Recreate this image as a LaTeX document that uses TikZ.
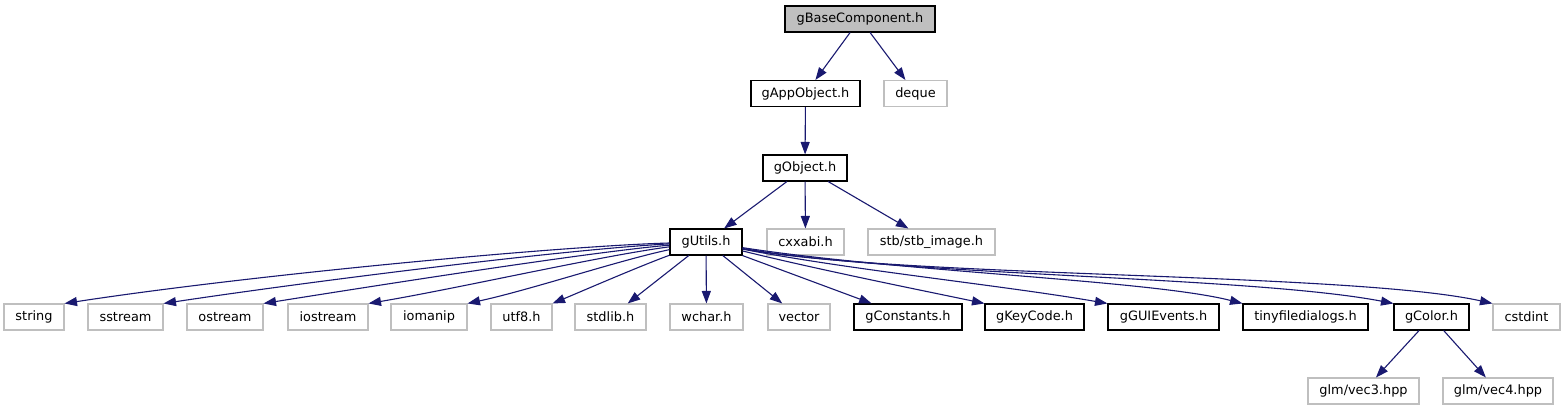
\documentclass[tikz,border=0pt]{standalone}
\usepackage{fontspec}
\setmainfont{DejaVu Sans}
\usetikzlibrary{arrows.meta}
\definecolor{edgecol}{HTML}{191970}
\definecolor{greyline}{HTML}{BFBFBF}
\definecolor{headfill}{HTML}{BFBFBF}
\tikzset{
  basebox/.style={rectangle, inner sep=0pt, minimum height=26pt, line width=1.05pt,
    font=\fontsize{12.9}{15}\selectfont, text=black},
  docbox/.style={basebox, draw=black},
  extbox/.style={basebox, draw=greyline},
  headbox/.style={basebox, draw=black, fill=headfill},
  dep/.style={draw=edgecol, line width=1.1pt, -{Triangle[length=12.5pt,width=9pt]}, edgecol}
}
\begin{document}
\begin{tikzpicture}[x=1pt, y=-1pt]
\fill[white] (0,0) rectangle (1565,411);
\useasboundingbox (0,0) rectangle (1565,411);

% row 0
\node[headbox, minimum width=150pt] (gbase) at (860,19) {gBaseComponent.h};
% row 1
\node[docbox, minimum width=109pt] (gapp) at (805.5,93.5) {gAppObject.h};
\node[extbox, minimum width=63pt] (deque) at (915.5,93.5) {deque};
% row 2
\node[docbox, minimum width=84pt] (gobject) at (805,168) {gObject.h};
% row 3
\node[docbox, minimum width=72pt] (gutils) at (706,242) {gUtils.h};
\node[extbox, minimum width=77pt] (cxxabi) at (805.5,242) {cxxabi.h};
\node[extbox, minimum width=127pt] (stb) at (931.5,242) {stb/stb\_image.h};
% row 4
\node[extbox, minimum width=60pt] (string) at (34,317) {string};
\node[extbox, minimum width=75pt] (sstream) at (125.5,317) {sstream};
\node[extbox, minimum width=76pt] (ostream) at (225,317) {ostream};
\node[extbox, minimum width=80pt] (iostream) at (328,317) {iostream};
\node[extbox, minimum width=76pt] (iomanip) at (429,317) {iomanip};
\node[extbox, minimum width=61pt] (utf8) at (521.5,317) {utf8.h};
\node[extbox, minimum width=71pt] (stdlib) at (610.5,317) {stdlib.h};
\node[extbox, minimum width=73pt] (wchar) at (706.5,317) {wchar.h};
\node[extbox, minimum width=62pt] (vector) at (799,317) {vector};
\node[docbox, minimum width=108pt] (gconst) at (908,317) {gConstants.h};
\node[docbox, minimum width=99pt] (gkey) at (1034.5,317) {gKeyCode.h};
\node[docbox, minimum width=111pt] (ggui) at (1163.5,317) {gGUIEvents.h};
\node[docbox, minimum width=125pt] (tiny) at (1305.5,317) {tinyfiledialogs.h};
\node[docbox, minimum width=75pt] (gcolor) at (1431.5,317) {gColor.h};
\node[extbox, minimum width=67pt] (cstdint) at (1526.5,317) {cstdint};
% row 5
\node[extbox, minimum width=111pt] (vec3) at (1363.5,391) {glm/vec3.hpp};
\node[extbox, minimum width=110pt] (vec4) at (1498,391) {glm/vec4.hpp};

% edges
\draw[dep] (gbase) -- (gapp);
\draw[dep] (gbase) -- (deque);
\draw[dep] (gapp) -- (gobject);
\draw[dep] (gobject) -- (gutils);
\draw[dep] (gobject) -- (cxxabi);
\draw[dep] (gobject) -- (stb);

\draw[dep] (gutils) .. controls (560,246) and (250,275) .. (string.north east);
\draw[dep] (gutils) .. controls (570,249) and (320,280) .. (sstream.north east);
\draw[dep] (gutils) .. controls (590,252) and (380,285) .. (ostream.north east);
\draw[dep] (gutils) .. controls (600,256) and (460,288) .. (iostream.north east);
\draw[dep] (gutils) .. controls (620,260) and (530,290) .. (iomanip.north east);
\draw[dep] (gutils) .. controls (640,266) and (580,292) .. (utf8.north east);
\draw[dep] (gutils) -- (stdlib);
\draw[dep] (gutils) -- (wchar);
\draw[dep] (gutils) -- (vector);
\draw[dep] (gutils) -- (gconst);
\draw[dep] (gutils) .. controls (820,270) and (920,290) .. (gkey.north west);
\draw[dep] (gutils) .. controls (850,270) and (1000,285) .. (ggui.north west);
\draw[dep] (gutils) .. controls (900,272) and (1150,280) .. (tiny.north west);
\draw[dep] (gutils) .. controls (900,276) and (1250,276) .. (gcolor.north west);
\draw[dep] (gutils) .. controls (900,278) and (1350,272) .. (cstdint.north west);

\draw[dep] (gcolor) -- (vec3);
\draw[dep] (gcolor) -- (vec4);
\end{tikzpicture}
\end{document}
